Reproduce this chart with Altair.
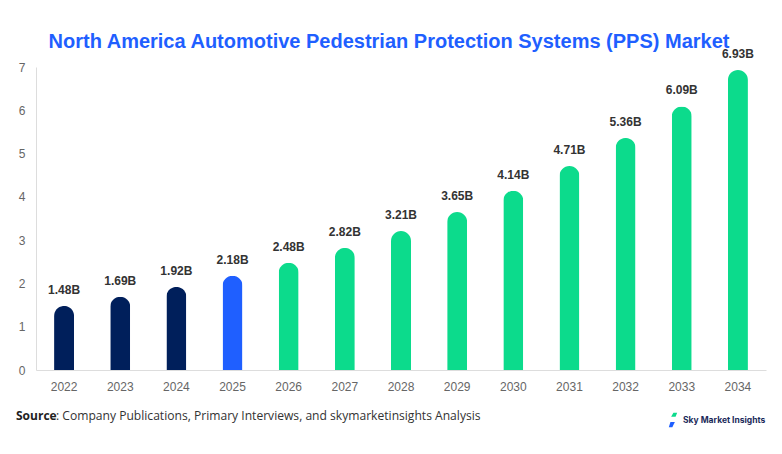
import altair as alt
import pandas as pd

years = ["2022", "2023", "2024", "2025", "2026", "2027", "2028",
         "2029", "2030", "2031", "2032", "2033", "2034"]
values = [1.48, 1.69, 1.92, 2.18, 2.48, 2.82, 3.21, 3.65, 4.14, 4.71, 5.36, 6.09, 6.93]
value_labels = ["1.48B", "1.69B", "1.92B", "2.18B", "2.48B", "2.82B", "3.21B",
                "3.65B", "4.14B", "4.71B", "5.36B", "6.09B", "6.93B"]
phases = ["Historical"] * 3 + ["Base"] + ["Forecast"] * 9
phase_domain = ["Historical", "Base", "Forecast"]
phase_colors = ["#001f5b", "#1f5fff", "#0cdb8c"]
y_ticks = [0, 1, 2, 3, 4, 5, 6, 7]

title_text = "North America Automotive Pedestrian Protection Systems (PPS) Market"
source_bold = "Source"
source_rest = ": Company Publications, Primary Interviews, and skymarketinsights Analysis"
brand = "Sky Market Insights"

df = pd.DataFrame({"year": years, "value": values, "label": value_labels, "phase": phases})

x_enc = alt.X(
    "year:N", sort=years,
    scale=alt.Scale(paddingInner=0.5, paddingOuter=0.25),
    axis=alt.Axis(title=None, labelAngle=0, ticks=False, domainColor="#dddddd",
                  labelColor="#666666", labelFontSize=12, labelFont="Liberation Sans",
                  labelPadding=11, grid=False),
)
y_enc = alt.Y(
    "value:Q",
    scale=alt.Scale(domain=[0, 7], nice=False),
    axis=alt.Axis(title=None, values=y_ticks, ticks=False, domainColor="#dddddd",
                  labelColor="#666666", labelFontSize=12, labelFont="Liberation Sans",
                  labelPadding=11, grid=False, format="d"),
)

base = alt.Chart(df)

bars = base.mark_bar(size=20, cornerRadiusTopLeft=10, cornerRadiusTopRight=10).encode(
    x=x_enc, y=y_enc,
    color=alt.Color("phase:N", scale=alt.Scale(domain=phase_domain, range=phase_colors), legend=None),
)

labels = base.mark_text(dy=-9, baseline="bottom", fontWeight="bold", fontSize=12,
                        font="Liberation Sans", color="#333333").encode(
    x=x_enc, y=y_enc, text="label:N"
)

src_df = pd.DataFrame({"a": [source_bold], "b": [source_rest], "c": [brand]})
src_bold = alt.Chart(src_df).mark_text(align="left", baseline="middle", fontWeight="bold",
                                        fontSize=12, font="Open Sans", color="#222222").encode(
    x=alt.value(-20), y=alt.value(349), text="a:N")
src_rest = alt.Chart(src_df).mark_text(align="left", baseline="middle",
                                        fontSize=12.1, font="Open Sans", color="#333333").encode(
    x=alt.value(20), y=alt.value(349), text="b:N")
brand_txt = alt.Chart(src_df).mark_text(align="left", baseline="middle", fontWeight="bold",
                                         fontSize=8.5, font="Inter", color="#1b2a5a").encode(
    x=alt.value(647), y=alt.value(353), text="c:N")
icon_green = alt.Chart(src_df).mark_point(
    shape="M-0.2,-1 L1,-1 L0.5,0.2 L-0.9,0.2 Z", filled=True, opacity=1, color="#0cdb8c", size=40
).encode(x=alt.value(638), y=alt.value(349))
icon_blue = alt.Chart(src_df).mark_point(
    shape="M-0.5,-0.6 L0.9,-0.6 L0.1,1 L-1,1 Z", filled=True, opacity=1, color="#1f5fff", size=40
).encode(x=alt.value(636), y=alt.value(357))

chart = alt.layer(bars, labels, src_bold, src_rest, brand_txt, icon_green, icon_blue).properties(
    width=730, height=303,
    background="white",
    title=alt.Title(title_text, fontSize=20, font="Liberation Sans", fontWeight="bold",
                    color="#1f5fff", anchor="middle", offset=-4, dx=-12),
    autosize=alt.AutoSizeParams(type="none"),
    padding={"left": 28, "top": 59, "right": 8, "bottom": 76},
).configure_view(stroke="transparent", strokeWidth=0, strokeOpacity=0)

chart.save("out.html", embed_options={"renderer": "svg", "actions": False})
